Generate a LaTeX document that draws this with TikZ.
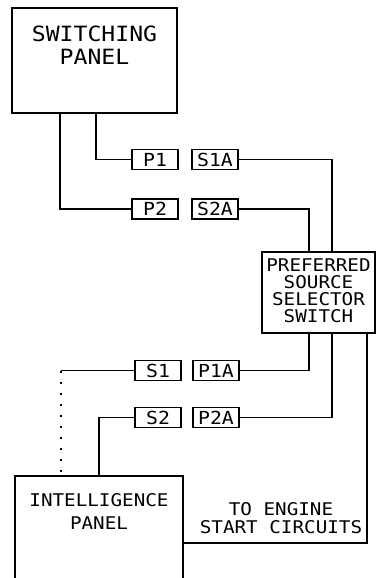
\documentclass[tikz,border=0pt]{standalone}
\usepackage{fontspec}
\newfontfamily\plotfont[FakeStretch=1.1]{DejaVu Sans Mono}
\usetikzlibrary{positioning, calc}
\tikzset{
	panel/.style={draw, line width=1.6pt, inner sep=0pt},
	plug/.style={draw, line width=1.6pt, minimum width=46pt, minimum height=20pt, inner sep=0pt, font=\plotfont\fontsize{18}{18}\selectfont},
	wire/.style={line width=1.6pt},
	paneltext/.style={align=center, inner sep=0pt, font=\plotfont\fontsize{17.5}{17}\selectfont},
}

\begin{document}
\begin{tikzpicture}[x=1pt, y=-1pt]
		\useasboundingbox (0,0) rectangle (377,578);
		\clip (0,0) rectangle (377,578);

		% Switching panel
		\node[panel, minimum width=165pt, minimum height=105pt] (swpanel) at (94.5,60.5) {};
		\node[paneltext, font=\plotfont\fontsize{21}{23}\selectfont] (swtext) at (94.5,45) {SWITCHING\\PANEL};

		\node[plug] (p1) at (155,159.5) {P1};
		\node[plug] (s1a) at (215,159.5) {S1A};
		\node[plug] (p2) at (155,209) {P2};
		\node[plug] (s2a) at (215,209) {S2A};

		% Preferred source selector switch
		\node[panel, minimum width=113pt, minimum height=81pt] (pss) at (318.5,292.5) {};
		\node[paneltext] (psstext) at (318.5,291) {PREFERRED\\SOURCE\\SELECTOR\\SWITCH};

		\node[plug] (s1) at (158,370.5) {S1};
		\node[plug] (p1a) at (216,370.5) {P1A};
		\node[plug] (s2) at (158,417.5) {S2};
		\node[plug] (p2a) at (216,417.5) {P2A};

		% Intelligence panel
		\node[panel, minimum width=168pt, minimum height=134pt] (intpanel) at (99,543) {};
		\node[paneltext, font=\plotfont\fontsize{17.5}{23}\selectfont] (inttext) at (99,511) {INTELLIGENCE\\PANEL};
		\node[paneltext, font=\plotfont\fontsize{17.5}{18.5}\selectfont] (engine) at (281,518) {TO ENGINE\\START CIRCUITS};

		\draw[wire] ([xshift=85pt]swpanel.south west) |- (p1.west);
		\draw[wire] ([xshift=49pt]swpanel.south west) |- (p2.west);
		\draw[wire] (s1a.east) -| ([xshift=71pt]pss.north west);
		\draw[wire] (s2a.east) -| ([xshift=48pt]pss.north west);

		\draw[wire] ([xshift=48pt]pss.south west) |- (p1a.east);
		\draw[wire] ([xshift=71pt]pss.south west) |- (p2a.east);
		\draw[wire] ([xshift=106pt]pss.south west) |- (intpanel.east);

		\coordinate (ip1) at ([xshift=47pt]intpanel.north west);
		\draw[wire] (s1.west) -- (s1.west -| ip1);
		\draw[wire, dash pattern=on 2pt off 9pt] (s1.west -| ip1) -- (ip1);
		\draw[wire] (s2.west) -| ([xshift=85pt]intpanel.north west);
	\end{tikzpicture}
\end{document}
